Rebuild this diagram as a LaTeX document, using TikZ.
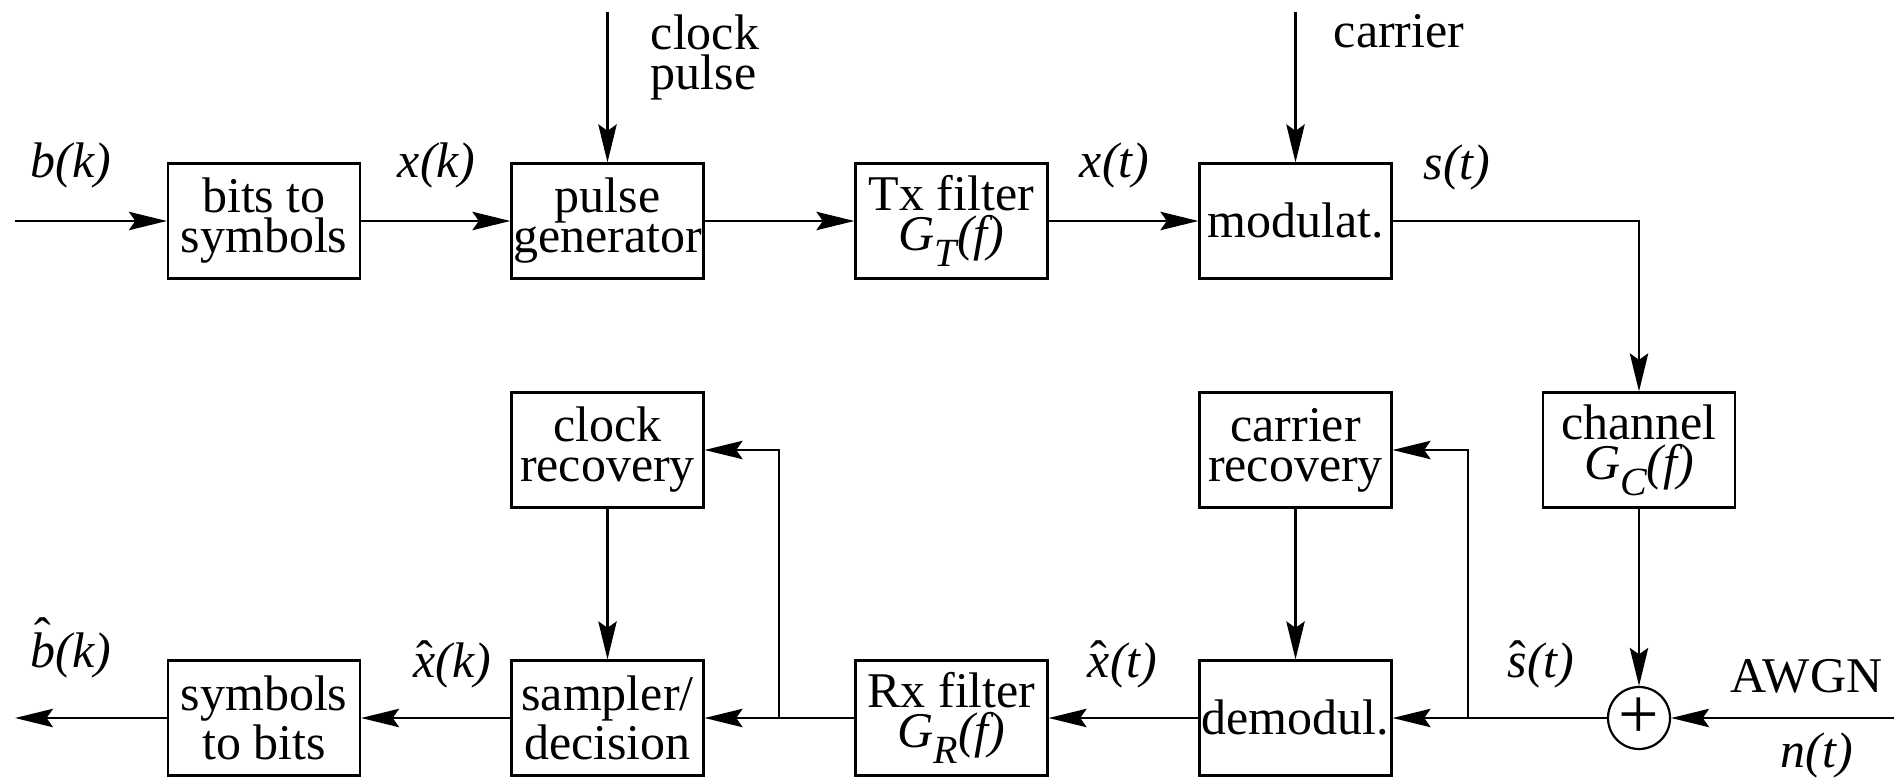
\documentclass[tikz,border=0pt]{standalone}
\usepackage{fontspec}
\setmainfont{Liberation Serif}
\usetikzlibrary{arrows.meta}
\newcommand\hatc[2][0pt]{\ooalign{#2\cr\hidewidth\raisebox{#1}{\upshape\symbol{"02C6}}\hidewidth\cr}}
\newcommand\subsc[1]{\raisebox{-0.32em}{\fontsize{10}{10}\selectfont #1}}
\begin{document}
\begin{tikzpicture}[x=0.25pt,y=-0.25pt,
  font=\fontsize{12.5}{10}\selectfont,
  blk/.style={draw, line width=0.55pt, minimum width=48pt, minimum height=28.75pt, inner sep=0pt, align=center},
  arr/.style={-{Stealth[length=9.5pt,width=4.6pt,inset=1.6pt]}, line width=0.55pt},
  lbl/.style={anchor=base west, inner sep=0pt, font=\fontsize{12.5}{10}\selectfont\itshape},
  txt/.style={anchor=base west, inner sep=0pt, align=left}]
\useasboundingbox (0,0) rectangle (1894,781);
% top row
\node[blk] (b2s) at (264,221) {bits to\\symbols};
\node[blk] (pg) at (607.5,221) {pulse\\generator};
\node[blk] (tx) at (951.5,221) {Tx filter\\\textit{G\subsc{T}(f)}};
\node[blk] (mod) at (1295.5,221) {modulat.};
% middle row
\node[blk] (clkrec) at (607.5,450) {clock\\recovery};
\node[blk] (carrec) at (1295.5,450) {carrier\\recovery};
\node[blk] (chan) at (1639,450) {channel\\\textit{G\subsc{C}(f)}};
% bottom row
\node[blk] (s2b) at (264,718) {symbols\\to bits};
\node[blk] (samp) at (607.5,718) {sampler/\\decision};
\node[blk] (rx) at (951.5,718) {Rx filter\\\textit{G\subsc{R}(f)}};
\node[blk] (demod) at (1295.5,718) {demodul.};
\node[draw, circle, line width=0.55pt, minimum size=15.5pt, inner sep=0pt, font=\fontsize{18}{18}\selectfont] (sum) at (1639,718) {+};
% free ends
\coordinate (in) at (15,221);
\coordinate (out) at (15,718);
\coordinate (cp) at (607.5,12);
\coordinate (cr) at (1295.5,12);
\coordinate (nin) at (1894,718);
\coordinate (br1) at (1468,718);
\coordinate (br2) at (779,718);
% connectors
\draw[arr] (in) -- (b2s);
\draw[arr] (b2s) -- (pg);
\draw[arr] (pg) -- (tx);
\draw[arr] (tx) -- (mod);
\draw[arr] (cp) -- (pg);
\draw[arr] (cr) -- (mod);
\draw[arr] (mod.east) -| (chan.north);
\draw[arr] (chan) -- (sum);
\draw[arr] (nin) -- (sum);
\draw[arr] (sum) -- (demod);
\draw[arr] (br1) |- (carrec.east);
\draw[arr] (carrec) -- (demod);
\draw[arr] (demod) -- (rx);
\draw[arr] (rx) -- (samp);
\draw[arr] (br2) |- (clkrec.east);
\draw[arr] (clkrec) -- (samp);
\draw[arr] (samp) -- (s2b);
\draw[arr] (s2b) -- (out);
% labels
\node[lbl] (lbk) at (30,178) {b(k)};
\node[lbl] (lxk) at (397,178) {x(k)};
\node[lbl] (lxt) at (1079,178) {x(t)};
\node[lbl] (lst) at (1423,180) {s(t)};
\node[txt] (lclk) at (650,90) {clock\\pulse};
\node[txt] (lcar) at (1333,48) {carrier};
\node[lbl] (lbhk) at (30,667) {\hatc[0.3em]{b}(k)};
\node[lbl] (lxhk) at (413,677) {\hatc[0.03em]{x}(k)};
\node[lbl] (lxht) at (1087,677) {\hatc[0.03em]{x}(t)};
\node[lbl] (lsht) at (1507,677) {\hatc[0.03em]{s}(t)};
\node[txt] (lawgn) at (1730,692) {AWGN};
\node[lbl] (lnt) at (1780,767) {n(t)};
\end{tikzpicture}
\end{document}
